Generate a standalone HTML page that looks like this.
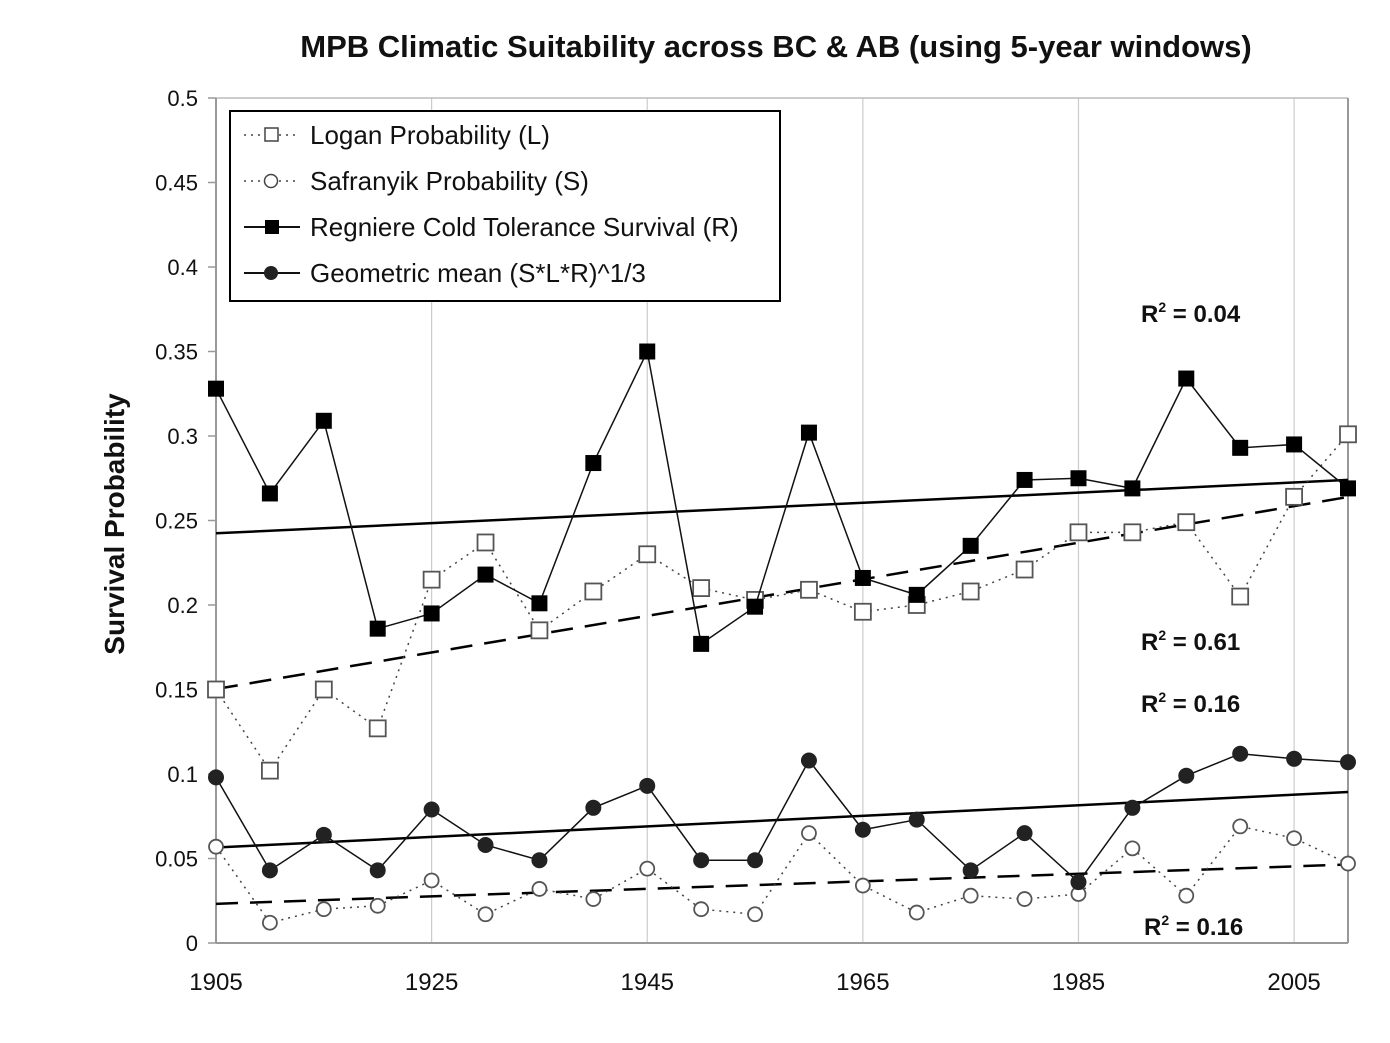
<!DOCTYPE html>
<html><head><meta charset="utf-8"><style>
body{margin:0;background:#fff;}
svg text{font-family:"Liberation Sans",Arial,sans-serif;}
</style></head><body>
<svg id="chart" width="1390" height="1038" xmlns="http://www.w3.org/2000/svg">
<rect width="1390" height="1038" fill="#fff"/>
<text x="776" y="57" text-anchor="middle" font-size="31" font-weight="bold" fill="#111">MPB Climatic Suitability across BC &amp; AB (using 5-year windows)</text>
<text transform="translate(124,524) rotate(-90)" text-anchor="middle" font-size="28" font-weight="bold" fill="#111">Survival Probability</text>
<g id="grid"></g><g id="axes"></g><g id="trends"></g><g id="series"></g>
<g>
<rect x="230" y="111" width="550" height="190" fill="#fff" stroke="#000" stroke-width="2"/>
<g><line x1="244" y1="135" x2="300" y2="135" stroke="#444" stroke-width="1.5" stroke-dasharray="2,5"/><rect x="265" y="128" width="13" height="13" fill="#fff" stroke="#444" stroke-width="1.5"/><text x="310" y="144" font-size="26" fill="#111">Logan Probability (L)</text></g>
<g><line x1="244" y1="181" x2="300" y2="181" stroke="#444" stroke-width="1.5" stroke-dasharray="2,5"/><circle cx="271" cy="181" r="6.5" fill="#fff" stroke="#444" stroke-width="1.5"/><text x="310" y="190" font-size="26" fill="#111">Safranyik Probability (S)</text></g>
<g><line x1="244" y1="227" x2="300" y2="227" stroke="#111" stroke-width="2"/><rect x="265" y="220" width="14" height="14" fill="#000"/><text x="310" y="236" font-size="26" fill="#111">Regniere Cold Tolerance Survival (R)</text></g>
<g><line x1="244" y1="273" x2="300" y2="273" stroke="#111" stroke-width="2"/><circle cx="271" cy="273" r="7" fill="#222"/><text x="310" y="282" font-size="26" fill="#111">Geometric mean (S*L*R)^1/3</text></g>
</g>
<g font-size="24" font-weight="bold" fill="#111">
<text x="1141" y="322">R<tspan font-size="14" dy="-10">2</tspan><tspan dy="10"> = 0.04</tspan></text>
<text x="1141" y="650">R<tspan font-size="14" dy="-10">2</tspan><tspan dy="10"> = 0.61</tspan></text>
<text x="1141" y="712">R<tspan font-size="14" dy="-10">2</tspan><tspan dy="10"> = 0.16</tspan></text>
<text x="1144" y="935">R<tspan font-size="14" dy="-10">2</tspan><tspan dy="10"> = 0.16</tspan></text>
</g>
</svg>
<script>
const years=[1905,1910,1915,1920,1925,1930,1935,1940,1945,1950,1955,1960,1965,1970,1975,1980,1985,1990,1995,2000,2005,2010];
const regniere=[0.328,0.266,0.309,0.186,0.195,0.218,0.201,0.284,0.350,0.177,0.199,0.302,0.216,0.206,0.235,0.274,0.275,0.269,0.334,0.293,0.295,0.269];
const logan=[0.150,0.102,0.150,0.127,0.215,0.237,0.185,0.208,0.230,0.210,0.203,0.209,0.196,0.200,0.208,0.221,0.243,0.243,0.249,0.205,0.264,0.301];
const geomean=[0.098,0.043,0.064,0.043,0.079,0.058,0.049,0.080,0.093,0.049,0.049,0.108,0.067,0.073,0.043,0.065,0.036,0.080,0.099,0.112,0.109,0.107];
const safranyik=[0.057,0.012,0.020,0.022,0.037,0.017,0.032,0.026,0.044,0.020,0.017,0.065,0.034,0.018,0.028,0.026,0.029,0.056,0.028,0.069,0.062,0.047];
const yTicks=[0,0.05,0.1,0.15,0.2,0.25,0.3,0.35,0.4,0.45,0.5];
const xTicks=[1905,1925,1945,1965,1985,2005];
const NS='http://www.w3.org/2000/svg';
const X0=216,X1=1348,Y0=943,Y1=98;
const xs=y=>X0+(y-1905)/(2010-1905)*(X1-X0);
const ys=v=>Y0-v/0.5*(Y0-Y1);
function mk(tag,attrs,parent){const e=document.createElementNS(NS,tag);for(const k in attrs)e.setAttribute(k,attrs[k]);parent.appendChild(e);return e;}
const grid=document.getElementById('grid'),axes=document.getElementById('axes');
xTicks.forEach(t=>{const l=mk('line',{x1:xs(t),x2:xs(t),y1:Y1,y2:Y0,stroke:'#ccc','stroke-width':1.2},grid);


const tx=mk('text',{x:xs(t),y:Y0+47,'text-anchor':'middle','font-size':24,fill:'#111'},axes);tx.textContent=t;

});
mk('line',{x1:X0,x2:X1,y1:Y1,y2:Y1,stroke:'#bbb','stroke-width':1.5},axes);
mk('line',{x1:X1,x2:X1,y1:Y1,y2:Y0,stroke:'#999','stroke-width':2},axes);
mk('line',{x1:X0,x2:X1,y1:Y0,y2:Y0,stroke:'#999','stroke-width':2},axes);
mk('line',{x1:X0,x2:X0,y1:Y1,y2:Y0,stroke:'#999','stroke-width':2},axes);
yTicks.forEach(t=>{mk('line',{x1:X0-8,x2:X0,y1:ys(t),y2:ys(t),stroke:'#999','stroke-width':1.5},axes);
const tx=mk('text',{x:X0-18,y:ys(t)+8,'text-anchor':'end','font-size':22,fill:'#111'},axes);tx.textContent=String(t);

});
function fit(v){const n=years.length;let mx=0,my=0;for(let i=0;i<n;i++){mx+=years[i];my+=v[i];}mx/=n;my/=n;let sxy=0,sxx=0;for(let i=0;i<n;i++){sxy+=(years[i]-mx)*(v[i]-my);sxx+=(years[i]-mx)**2;}const b=sxy/sxx;return [my+b*(1905-mx),my+b*(2010-mx)];}
const trends=document.getElementById('trends');
[[regniere,null,'trend-regniere'],[logan,'22,12','trend-logan'],[geomean,null,'trend-geomean'],[safranyik,'22,12','trend-safranyik']].forEach(([d,dash,name])=>{const f=fit(d);const a={x1:xs(1905),x2:xs(2010),y1:ys(f[0]),y2:ys(f[1]),stroke:'#000','stroke-width':2.5};if(dash)a['stroke-dasharray']=dash;const l=mk('line',a,trends);

});
const series=document.getElementById('series');
function drawSeries(d,name,dotted,marker){const g=mk('g',{},series);


const pts=d.map((v,i)=>xs(years[i])+','+ys(v)).join(' ');
mk('polyline',dotted?{points:pts,fill:'none',stroke:'#444','stroke-width':1.5,'stroke-dasharray':'2,5'}:{points:pts,fill:'none',stroke:'#111','stroke-width':1.5},g);
d.forEach((v,i)=>{const x=xs(years[i]),y=ys(v);let m;
if(marker==='osq')m=mk('rect',{x:x-8,y:y-8,width:16,height:16,fill:'#fff',stroke:'#555','stroke-width':1.8},g);
else if(marker==='fsq')m=mk('rect',{x:x-8,y:y-8,width:16,height:16,fill:'#000'},g);
else if(marker==='oc')m=mk('circle',{cx:x,cy:y,r:7,fill:'#fff',stroke:'#555','stroke-width':1.8},g);
else m=mk('circle',{cx:x,cy:y,r:8,fill:'#222'},g);

});}
drawSeries(logan,'series-logan',true,'osq');
drawSeries(safranyik,'series-safranyik',true,'oc');
drawSeries(regniere,'series-regniere',false,'fsq');
drawSeries(geomean,'series-geomean',false,'fc');
</script>
</body></html>
